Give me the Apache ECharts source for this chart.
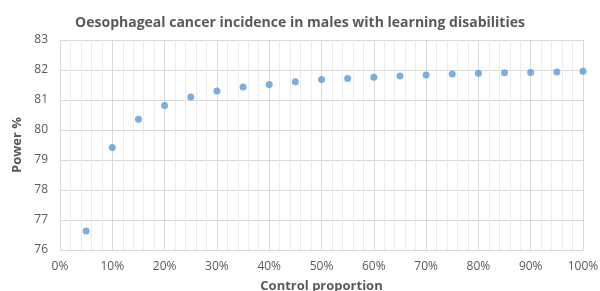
<!DOCTYPE html>
<html>
<head>
<meta charset="utf-8">
<script src="https://cdn.jsdelivr.net/npm/echarts@6/dist/echarts.min.js"></script>
<style>
html, body { margin: 0; padding: 0; background: #fff; }
#chart { width: 600px; height: 291px; }
</style>
</head>
<body>
<div id="chart"></div>
<script>
// control proportion (x) and power % (y)
var controlProportion = [0.05, 0.10, 0.15, 0.20, 0.25, 0.30, 0.35, 0.40, 0.45, 0.50,
    0.55, 0.60, 0.65, 0.70, 0.75, 0.80, 0.85, 0.90, 0.95, 1.00];
var powerValues = [76.63, 79.42, 80.36, 80.82, 81.10, 81.30, 81.43, 81.52, 81.61, 81.68,
    81.72, 81.76, 81.80, 81.83, 81.87, 81.89, 81.91, 81.92, 81.93, 81.96];
var yTicks = [76, 77, 78, 79, 80, 81, 82, 83];

var points = [];
for (var i = 0; i < controlProportion.length; i++) {
    points.push([controlProportion[i], powerValues[i]]);
}

var chart = echarts.init(document.getElementById('chart'));
chart.setOption({
    animation: false,
    title: {
        text: 'Oesophageal cancer incidence in males with learning disabilities',
        left: 'center',
        top: 11,
        textStyle: { fontFamily: 'Open Sans', fontSize: 14, fontWeight: 'bold', color: '#595959' }
    },
    // keep the plot area fixed, the axis name is allowed to run off the bottom
    grid: { left: 60, right: 17, top: 40, bottom: 41, outerBoundsMode: 'none' },
    xAxis: {
        type: 'value',
        min: 0,
        max: 1,
        interval: 0.1,
        name: 'Control proportion',
        nameLocation: 'middle',
        nameGap: 30,
        nameTextStyle: { fontFamily: 'Open Sans', fontSize: 13, fontWeight: 'bold', color: '#595959' },
        axisLine: { show: true, lineStyle: { color: '#d9d9d9' } },
        axisTick: { show: false },
        axisLabel: {
            fontFamily: 'Open Sans', fontSize: 12, color: '#595959', margin: 11,
            formatter: function (v) { return Math.round(v * 100) + '%'; }
        },
        splitLine: { show: true, lineStyle: { color: '#d9d9d9' } },
        minorTick: { show: false, splitNumber: 5 },
        minorSplitLine: { show: true, lineStyle: { color: '#ececec' } }
    },
    yAxis: {
        type: 'value',
        min: yTicks[0],
        max: yTicks[yTicks.length - 1],
        interval: 1,
        name: 'Power %',
        nameLocation: 'middle',
        nameGap: 27,
        nameTextStyle: { fontFamily: 'Open Sans', fontSize: 13, fontWeight: 'bold', color: '#595959' },
        axisLine: { show: false },
        axisTick: { show: false },
        axisLabel: { fontFamily: 'Open Sans', fontSize: 12, color: '#595959', margin: 12 },
        splitLine: { show: true, lineStyle: { color: '#d9d9d9' } }
    },
    series: [{
        type: 'scatter',
        data: points,
        symbolSize: 7,
        itemStyle: { color: '#5B9BD5' }
    }]
});
</script>
</body>
</html>
